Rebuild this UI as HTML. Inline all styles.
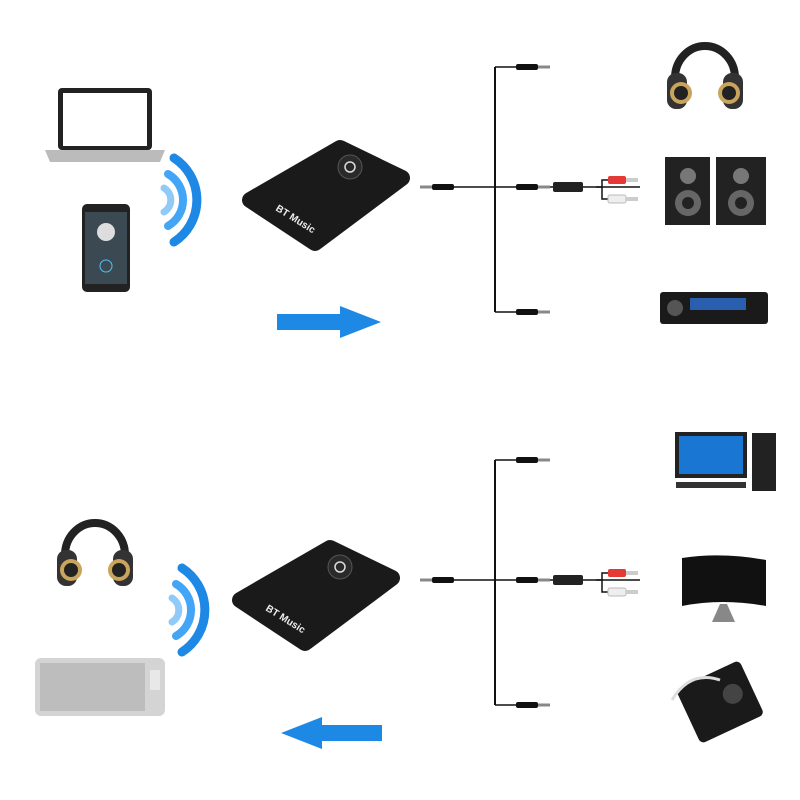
<!DOCTYPE html>
<html><head><meta charset="utf-8"><style>html,body{margin:0;padding:0;background:#fff}svg{display:block}</style></head>
<body>
<svg width="800" height="800" viewBox="0 0 800 800" xmlns="http://www.w3.org/2000/svg" font-family="Liberation Sans, sans-serif">
<defs>
<g id="jack"><rect x="-14" y="-3" width="22" height="6" rx="2" fill="#111"/><rect x="8" y="-1.5" width="12" height="3" fill="#888"/></g>
<g id="arcs" fill="none" stroke-linecap="round">
<path d="M14,-42 A50,50 0 0 1 14,42" stroke="#1e88e5" stroke-width="9"/>
<path d="M8,-26 A30,30 0 0 1 8,26" stroke="#42a5f5" stroke-width="8"/>
<path d="M4,-12 A14,14 0 0 1 4,12" stroke="#90caf9" stroke-width="7"/>
</g>
<g id="headph"><path d="M10,40 A30,32 0 0 1 70,40" fill="none" stroke="#222" stroke-width="8"/><rect x="2" y="35" width="20" height="36" rx="9" fill="#333"/><rect x="58" y="35" width="20" height="36" rx="9" fill="#333"/><circle cx="16" cy="55" r="11" fill="#c9a45c"/><circle cx="64" cy="55" r="11" fill="#c9a45c"/><circle cx="16" cy="55" r="7" fill="#222"/><circle cx="64" cy="55" r="7" fill="#222"/></g>
<g id="device"><polygon points="250,200 340,148 402,178 315,243" fill="#1a1a1a" stroke="#1a1a1a" stroke-width="16" stroke-linejoin="round"/><circle cx="350" cy="167" r="12" fill="#2a2a2a" stroke="#555"/><circle cx="350" cy="167" r="5" fill="none" stroke="#ddd" stroke-width="1.5"/><text x="0" y="0" font-size="10" font-weight="bold" fill="#eee" transform="translate(275,210) rotate(32)">BT Music</text></g>
<g id="cables">
<line x1="425" y1="187" x2="495" y2="187" stroke="#111" stroke-width="1.5"/>
<line x1="495" y1="67" x2="495" y2="312" stroke="#111" stroke-width="2"/>
<line x1="495" y1="67" x2="530" y2="67" stroke="#111" stroke-width="1.5"/>
<line x1="495" y1="187" x2="640" y2="187" stroke="#111" stroke-width="1.5"/>
<line x1="495" y1="312" x2="530" y2="312" stroke="#111" stroke-width="1.5"/>
<use href="#jack" x="530" y="67"/><use href="#jack" x="530" y="187"/><use href="#jack" x="530" y="312"/>
<g transform="translate(440,187) scale(-1,1)"><use href="#jack"/></g>
<rect x="553" y="182" width="30" height="10" rx="2" fill="#222"/>
<path d="M596,187 H602 V180 H608 M602,187 V199 H608" fill="none" stroke="#111" stroke-width="1.5"/>
<rect x="608" y="176" width="18" height="8" rx="2" fill="#e53935"/><rect x="626" y="178" width="12" height="4" fill="#ccc"/>
<rect x="608" y="195" width="18" height="8" rx="2" fill="#eee" stroke="#bbb"/><rect x="626" y="197" width="12" height="4" fill="#ccc"/>
</g>
</defs>

<!-- Top section -->
<rect x="58" y="88" width="94" height="62" rx="4" fill="#222"/><rect x="63" y="93" width="84" height="53" fill="#fff"/>
<path d="M45,150 H165 L160,162 H50 Z" fill="#bbb"/>
<rect x="82" y="204" width="48" height="88" rx="5" fill="#222"/><rect x="85" y="212" width="42" height="72" fill="#3b4a52"/><circle cx="106" cy="232" r="9" fill="#ddd"/><circle cx="106" cy="266" r="6" fill="none" stroke="#4fc3f7"/>
<use href="#arcs" x="160" y="200"/>
<use href="#device"/>
<use href="#cables"/>
<polygon points="277,314 340,314 340,306 381,322 340,338 340,330 277,330" fill="#1e88e5"/>
<use href="#headph" x="665" y="38"/>
<rect x="665" y="157" width="45" height="68" fill="#222"/><circle cx="688" cy="176" r="8" fill="#777"/><circle cx="688" cy="203" r="13" fill="#666"/><circle cx="688" cy="203" r="6" fill="#222"/>
<rect x="716" y="157" width="50" height="68" fill="#222"/><circle cx="741" cy="176" r="8" fill="#777"/><circle cx="741" cy="203" r="13" fill="#666"/><circle cx="741" cy="203" r="6" fill="#222"/>
<rect x="660" y="292" width="108" height="32" rx="3" fill="#1a1a1a"/><rect x="690" y="298" width="56" height="12" fill="#2a5fb0"/><circle cx="675" cy="308" r="8" fill="#555"/>

<!-- Bottom section -->
<use href="#headph" x="55" y="515"/>
<rect x="35" y="658" width="130" height="58" rx="6" fill="#d4d4d4"/><rect x="40" y="663" width="105" height="48" fill="#bdbdbd"/><rect x="150" y="670" width="10" height="20" fill="#e8e8e8"/>
<use href="#arcs" x="168" y="610"/>
<g transform="translate(-10,400)"><use href="#device"/></g>
<g transform="translate(0,393)"><use href="#cables"/></g>
<polygon points="382,725 322,725 322,717 281,733 322,749 322,741 382,741" fill="#1e88e5"/>
<rect x="675" y="432" width="72" height="46" fill="#222"/><rect x="679" y="436" width="64" height="38" fill="#1976d2"/><rect x="676" y="482" width="70" height="6" fill="#333"/>
<rect x="752" y="433" width="24" height="58" fill="#222"/>
<path d="M682,558 Q722,552 766,560 V606 Q722,598 682,606 Z" fill="#111"/><path d="M720,604 L712,622 H735 L727,604 Z" fill="#888"/>
<g transform="rotate(-25 720 702)"><rect x="685" y="672" width="70" height="60" rx="5" fill="#1a1a1a"/><circle cx="735" cy="700" r="10" fill="#444"/></g>
<path d="M672,700 Q690,670 720,680" fill="none" stroke="#ddd" stroke-width="3"/>
</svg>
</body></html>
